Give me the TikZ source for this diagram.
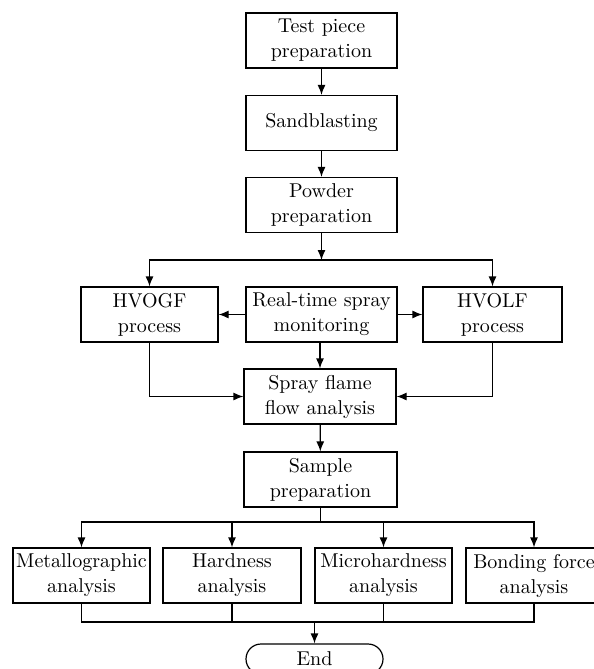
\documentclass[tikz,border=0pt]{standalone}
\usepackage{fontspec}
\setmainfont{lmroman10-regular.otf}
\usetikzlibrary{arrows.meta}
\begin{document}
\begin{tikzpicture}[x=1pt,y=-1pt,
  box/.style={draw, line width=1.2pt, minimum height=55pt, align=center, inner sep=0pt,
    font=\fontsize{20}{25}\selectfont},
  endbox/.style={box, rounded corners=15pt, minimum height=30pt},
  arr/.style={line width=1.2pt, -{Latex[length=10pt,width=8pt]}},
  ln/.style={line width=1.2pt}]
\useasboundingbox (0,0) rectangle (594,669);
% top chain
\node[box, minimum width=151pt] (test) at (321.5,40.5) {Test piece\\preparation};
\node[box, minimum width=151pt] (sand) at (321.5,123) {Sandblasting};
\node[box, minimum width=151pt] (powder) at (321.5,205) {Powder\\preparation};
% middle row
\node[box, minimum width=137pt] (hvogf) at (149.5,314.5) {HVOGF\\process};
\node[box, minimum width=151pt] (rt) at (321.5,314.5) {Real-time spray\\monitoring};
\node[box, minimum width=139pt] (hvolf) at (492.5,314.5) {HVOLF\\process};
\node[box, minimum width=152pt] (spray) at (320,396.5) {Spray flame\\flow analysis};
\node[box, minimum width=153pt] (sample) at (320.5,479.5) {Sample\\preparation};
% bottom row
\node[box, minimum width=137pt] (metal) at (81.5,575.5) {Metallographic\\analysis};
\node[box, minimum width=138pt] (hard) at (232,575.5) {Hardness\\analysis};
\node[box, minimum width=137pt] (micro) at (383.5,575.5) {Microhardness\\analysis};
\node[box, minimum width=136pt] (bond) at (534,575.5) {Bonding force\\analysis};
\node[endbox, minimum width=137pt] (end) at (314.5,659) {End};
% coordinates
\coordinate (b1) at (321.5,260);
\coordinate (b2) at (320.5,522);
\coordinate (j1) at (314.5,622);
% connectors
\draw[arr] (test) -- (sand);
\draw[arr] (sand) -- (powder);
\draw[arr] (powder) -- (b1);
\draw[arr] (b1) -| (hvogf.north);
\draw[arr] (b1) -| (hvolf.north);
\draw[arr] (rt) -- (hvogf);
\draw[arr] (rt) -- (hvolf);
\draw[arr] (rt.south -| spray.north) -- (spray.north);
\draw[arr] (hvogf.south) |- (spray.west);
\draw[arr] (hvolf.south) |- (spray.east);
\draw[arr] (spray) -- (sample);
\draw[ln] (sample.south) -- (b2);
\draw[arr] (b2) -| (metal.north);
\draw[arr] (b2) -| (bond.north);
\draw[arr] (hard.north |- b2) -- (hard.north);
\draw[arr] (micro.north |- b2) -- (micro.north);
\draw[ln] (metal.south) |- (j1);
\draw[ln] (bond.south) |- (j1);
\draw[ln] (hard.south) -- (hard.south |- j1);
\draw[ln] (micro.south) -- (micro.south |- j1);
\draw[arr] (j1) -- (end.north);
\end{tikzpicture}
\end{document}
